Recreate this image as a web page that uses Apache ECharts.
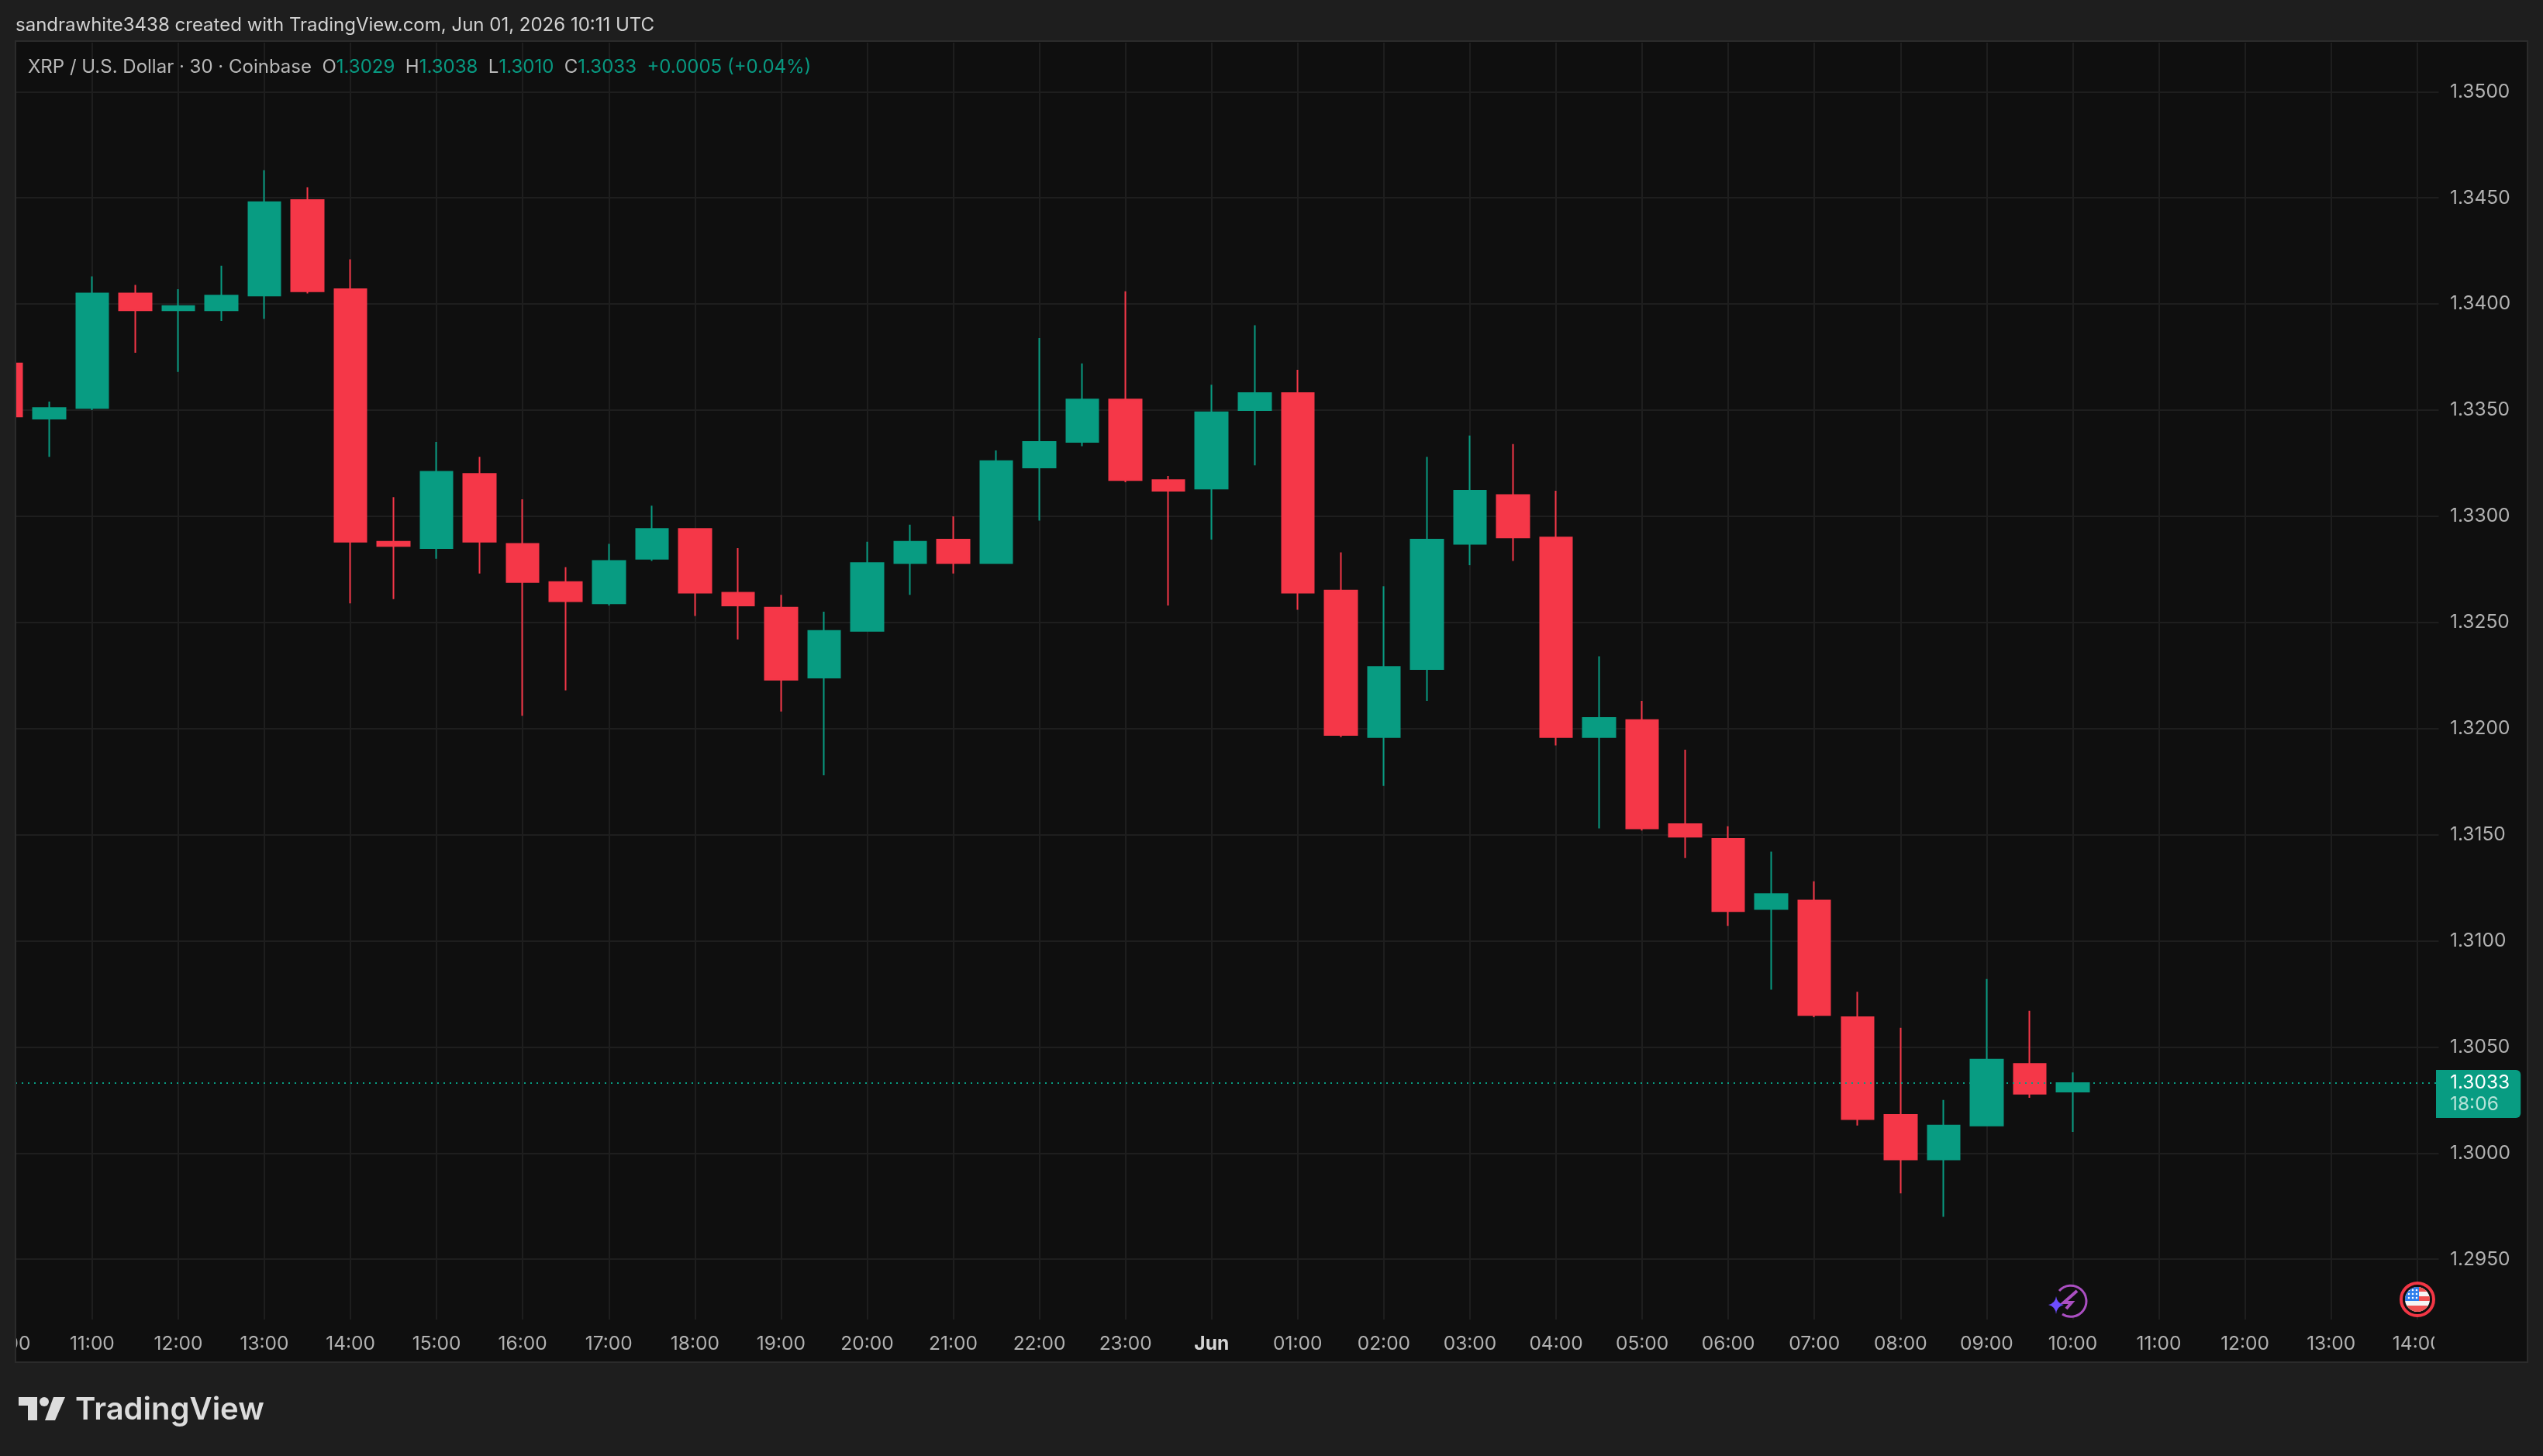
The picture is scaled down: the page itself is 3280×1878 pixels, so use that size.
<!DOCTYPE html>
<html>
<head>
<meta charset="utf-8">
<style>html,body{margin:0;padding:0;background:#1e1e1e}#chart{width:3280px;height:1878px}</style>
<script src="https://cdn.jsdelivr.net/npm/echarts@6/dist/echarts.min.js"></script>
</head>
<body>
<div id="chart"></div>
<script>
const times = ['10:00','10:30','11:00','11:30','12:00','12:30','13:00','13:30','14:00','14:30','15:00','15:30','16:00','16:30','17:00','17:30','18:00','18:30','19:00','19:30','20:00','20:30','21:00','21:30','22:00','22:30','23:00','23:30','Jun','00:30','01:00','01:30','02:00','02:30','03:00','03:30','04:00','04:30','05:00','05:30','06:00','06:30','07:00','07:30','08:00','08:30','09:00','09:30','10:00','10:30','11:00','11:30','12:00','12:30','13:00','13:30','14:00']
const opens = [1.3372,1.3346,1.3351,1.3405,1.3397,1.3397,1.3404,1.3449,1.3407,1.3288,1.3285,1.3320,1.3287,1.3269,1.3259,1.3280,1.3294,1.3264,1.3257,1.3224,1.3246,1.3278,1.3289,1.3278,1.3323,1.3335,1.3355,1.3317,1.3313,1.3350,1.3358,1.3265,1.3196,1.3228,1.3287,1.3310,1.3290,1.3196,1.3204,1.3155,1.3148,1.3115,1.3119,1.3064,1.3018,1.2997,1.3013,1.3042,1.3029]
const closes = [1.3347,1.3351,1.3405,1.3397,1.3399,1.3404,1.3448,1.3406,1.3288,1.3286,1.3321,1.3288,1.3269,1.3260,1.3279,1.3294,1.3264,1.3258,1.3223,1.3246,1.3278,1.3288,1.3278,1.3326,1.3335,1.3355,1.3317,1.3312,1.3349,1.3358,1.3264,1.3197,1.3229,1.3289,1.3312,1.3290,1.3196,1.3205,1.3153,1.3149,1.3114,1.3122,1.3065,1.3016,1.2997,1.3013,1.3044,1.3028,1.3033]
const lows = [1.3347,1.3328,1.3350,1.3377,1.3368,1.3392,1.3393,1.3405,1.3259,1.3261,1.3280,1.3273,1.3206,1.3218,1.3258,1.3279,1.3253,1.3242,1.3208,1.3178,1.3246,1.3263,1.3273,1.3278,1.3298,1.3333,1.3316,1.3258,1.3289,1.3324,1.3256,1.3196,1.3173,1.3213,1.3277,1.3279,1.3192,1.3153,1.3152,1.3139,1.3107,1.3077,1.3064,1.3013,1.2981,1.2970,1.3013,1.3026,1.3010]
const highs = [1.3372,1.3354,1.3413,1.3409,1.3407,1.3418,1.3463,1.3455,1.3421,1.3309,1.3335,1.3328,1.3308,1.3276,1.3287,1.3305,1.3294,1.3285,1.3263,1.3255,1.3288,1.3296,1.3300,1.3331,1.3384,1.3372,1.3406,1.3319,1.3362,1.3390,1.3369,1.3283,1.3267,1.3328,1.3338,1.3334,1.3312,1.3234,1.3213,1.3190,1.3154,1.3142,1.3128,1.3076,1.3059,1.3025,1.3082,1.3067,1.3038]
const priceTicks = [1.35,1.345,1.34,1.335,1.33,1.325,1.32,1.315,1.31,1.305,1.3,1.295]
const lastPrice = 1.3033
const countdown = '18:06'

const FONT = 'Inter'
const GREEN = '#089C82'
const RED = '#F53748'
const OUTER = '#1e1e1e'
const PANEL = '#0f0f0f'
const GRID = '#1e1e1e'
const everyHour = (i) => i % 2 === 0

const boltIcon = 'data:image/svg+xml,' + encodeURIComponent('<svg xmlns="http://www.w3.org/2000/svg" width="56" height="46" viewBox="0 0 56 46"><path d="M15 11A20 20 0 1 1 19 41" fill="#0f0f0f" stroke="#ab4fc2" stroke-width="3"/><path d="M38 11L21 26L31 26L24 34" fill="none" stroke="#ab4fc2" stroke-width="4"/><path d="M11 18Q12 27 21 29Q12 31 11 41Q10 31 1 29Q10 27 11 18Z" fill="#6d4dff"/></svg>')
const flagIcon = 'data:image/svg+xml,' + encodeURIComponent('<svg xmlns="http://www.w3.org/2000/svg" width="46" height="46" viewBox="0 0 46 46"><circle cx="23" cy="23" r="21" fill="#0f0f0f" stroke="#f23645" stroke-width="4"/><clipPath id="c"><circle cx="23" cy="23" r="16"/></clipPath><g clip-path="url(#c)"><rect x="7" y="7" width="32" height="32" fill="#f5f5f5"/><rect x="7" y="7" width="32" height="6" fill="#f05252"/><rect x="7" y="19" width="32" height="6" fill="#f05252"/><rect x="7" y="31" width="32" height="8" fill="#f05252"/><rect x="7" y="7" width="18" height="18" fill="#2f80ed"/><g fill="#fff"><circle cx="12" cy="11" r="1.3"/><circle cx="17" cy="11" r="1.3"/><circle cx="22" cy="11" r="1.3"/><circle cx="12" cy="16" r="1.3"/><circle cx="17" cy="16" r="1.3"/><circle cx="22" cy="16" r="1.3"/><circle cx="12" cy="21" r="1.3"/><circle cx="17" cy="21" r="1.3"/><circle cx="22" cy="21" r="1.3"/></g></g></svg>')

const chart = echarts.init(document.getElementById('chart'))
const candles = opens.map((o, i) => [o, closes[i], lows[i], highs[i]])

chart.setOption({
  backgroundColor: OUTER,
  animation: false,
  textStyle: { fontFamily: FONT },
  grid: { left: -20, top: 55, width: 3165.5, height: 1647, containLabel: false, outerBoundsMode: 'none' },
  xAxis: {
    type: 'category',
    data: times,
    z: 0,
    axisLine: { show: false },
    axisTick: { show: false },
    axisLabel: {
      interval: everyHour,
      hideOverlap: false,
      margin: 19,
      fontFamily: FONT,
      fontSize: 24.5,
      color: '#b2b2b2',
      formatter: (v) => (v === 'Jun' ? '{b|Jun}' : v),
      rich: { b: { fontFamily: FONT, fontSize: 24.5, fontWeight: 700, color: '#d4d4d4' } }
    },
    splitLine: { show: true, interval: everyHour, alignWithLabel: true, lineStyle: { color: GRID, width: 2 } }
  },
  yAxis: {
    type: 'value',
    position: 'right',
    min: 1.292159,
    max: 1.352312,
    z: 2,
    axisLine: { show: false },
    axisTick: { show: false, customValues: priceTicks },
    axisLabel: {
      customValues: priceTicks,
      margin: 14.5,
      fontFamily: FONT,
      fontSize: 24.5,
      color: '#b2b2b2',
      formatter: (v) => v.toFixed(4)
    },
    splitLine: { show: true, lineStyle: { color: GRID, width: 2 } }
  },
  series: [{
    type: 'candlestick',
    z: 3,
    barWidth: 42,
    data: candles,
    itemStyle: { color: GREEN, color0: RED, borderColor: GREEN, borderColor0: RED, borderWidth: 2 },
    markLine: {
      silent: true,
      symbol: 'none',
      animation: false,
      precision: 4,
      z: 5,
      lineStyle: { color: GREEN, type: [2, 6], width: 2 },
      label: {
        position: 'end',
        distance: 0,
        offset: [-3.5, 14],
        backgroundColor: GREEN,
        borderRadius: [0, 6, 6, 0],
        padding: [3, 14, 3, 18],
        formatter: () => '{p|' + lastPrice.toFixed(4) + '}\n{t|' + countdown + '}',
        rich: {
          p: { fontFamily: FONT, fontSize: 24.5, lineHeight: 28, color: '#ffffff' },
          t: { fontFamily: FONT, fontSize: 24.5, lineHeight: 28, color: '#b5e3d8' }
        }
      },
      data: [{ yAxis: lastPrice }]
    }
  }],
  graphic: { elements: [
    // panel, side masks (the grid runs past the panel so the first candle and labels get cut)
    { type: 'rect', z: -1, shape: { x: 20, y: 53, width: 3240, height: 1704 }, style: { fill: PANEL } },
    { type: 'rect', z: 1, shape: { x: 3140, y: 55, width: 119, height: 1701 }, style: { fill: PANEL } },
    { type: 'rect', z: 10, shape: { x: 0, y: 0, width: 20, height: 1878 }, style: { fill: OUTER } },
    { type: 'rect', z: 11, shape: { x: 20, y: 53, width: 3240, height: 1704 }, style: { fill: 'none', stroke: '#2b2b2b', lineWidth: 2 } },
    { type: 'text', z: 12, x: 20, y: 33, style: { text: 'sandrawhite3438 created with TradingView.com, Jun 01, 2026 10:11 UTC', fontFamily: FONT, fontSize: 24, fill: '#d2d2d2', verticalAlign: 'middle' } },
    { type: 'text', z: 12, x: 36, y: 87, style: {
      text: '{l|XRP / U.S. Dollar · 30 · Coinbase}{l|  O}{g|1.3029}{l|  H}{g|1.3038}{l|  L}{g|1.3010}{l|  C}{g|1.3033}{g|  +0.0005 (+0.04%)}',
      fontFamily: FONT, fontSize: 24, verticalAlign: 'middle',
      rich: {
        l: { fontFamily: FONT, fontSize: 24, fill: '#b8b8b8' },
        g: { fontFamily: FONT, fontSize: 24, fill: '#089981' }
      }
    } },
    { type: 'image', z: 6, style: { image: boltIcon, x: 2641, y: 1654, width: 56, height: 46 } },
    { type: 'image', z: 6, style: { image: flagIcon, x: 3095, y: 1653, width: 46, height: 46 } },
    // TradingView logo
    { type: 'polygon', z: 12, shape: { points: [[24, 1802], [48, 1802], [48, 1832], [36, 1832], [36, 1813], [24, 1813]] }, style: { fill: '#dcdcdc' } },
    { type: 'circle', z: 12, shape: { cx: 57, cy: 1808, r: 6 }, style: { fill: '#dcdcdc' } },
    { type: 'polygon', z: 12, shape: { points: [[69, 1802], [84, 1802], [71, 1832], [58, 1832]] }, style: { fill: '#dcdcdc' } },
    { type: 'text', z: 12, x: 97, y: 1819, style: { text: 'TradingView', fontFamily: FONT, fontSize: 40, fontWeight: 600, fill: '#dcdcdc', verticalAlign: 'middle' } }
  ] }
})
</script>
</body>
</html>
